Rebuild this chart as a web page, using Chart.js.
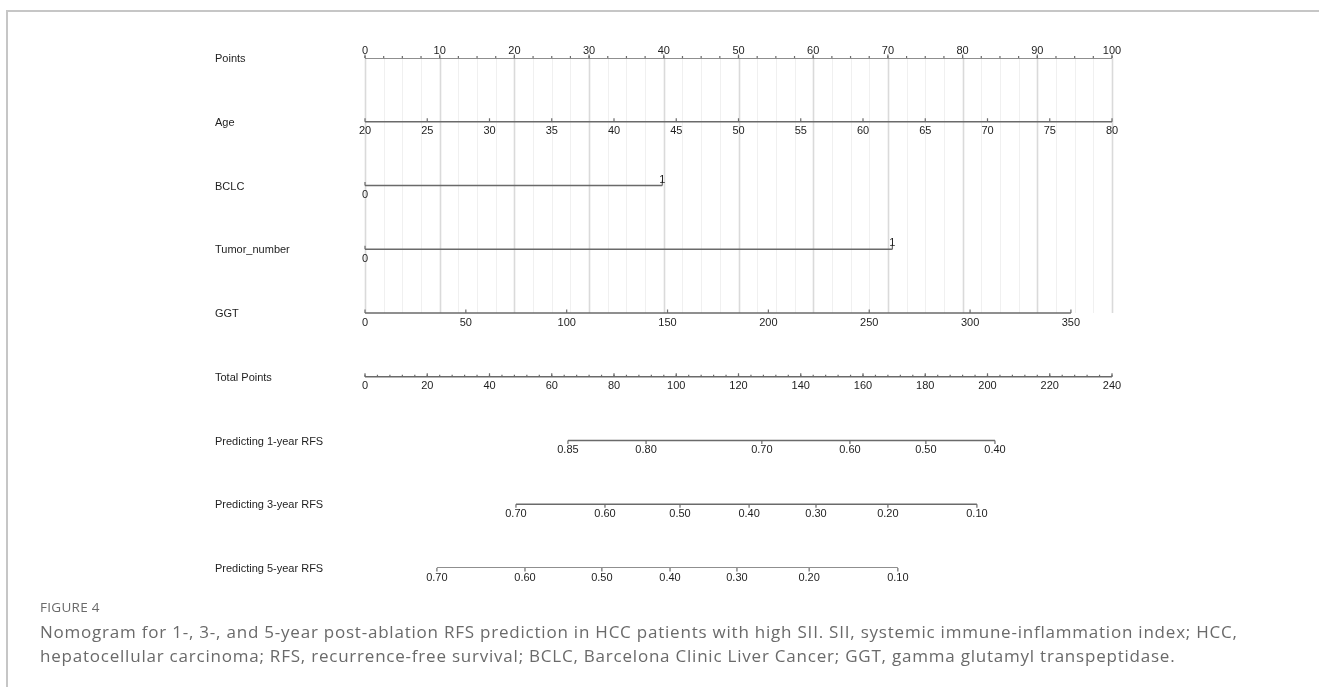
<!DOCTYPE html>
<html>
<head>
<meta charset="utf-8">
<script src="https://cdn.jsdelivr.net/npm/chart.js@4/dist/chart.umd.min.js"></script>
<style>
  html, body { margin: 0; padding: 0; background: #fff; }
  body { width: 1319px; height: 687px; position: relative; overflow: hidden; }
  #frame {
    position: absolute; left: 6px; top: 10px; right: -4px; bottom: -4px;
    border-top: 2px solid #c6c6c6; border-left: 2px solid #c6c6c6;
  }
  #nomo { position: absolute; left: 0; top: 0; }
  #caption {
    position: absolute; left: 40px; top: 598px; width: 1265px;
    font-family: "Open Sans", sans-serif; color: #6a6a6a;
  }
  #caption .fig { font-size: 13.5px; letter-spacing: 0.3px; margin-bottom: 4px; }
  #caption .txt { font-size: 17px; line-height: 24px; letter-spacing: 0.78px; }
</style>
</head>
<body>
<div id="frame"></div>
<canvas id="nomo" width="1319" height="600"></canvas>
<div id="caption">
  <div class="fig">FIGURE 4</div>
  <div class="txt">Nomogram for 1-, 3-, and 5-year post-ablation RFS prediction in HCC patients with high SII. SII, systemic immune-inflammation index; HCC,<br>hepatocellular carcinoma; RFS, recurrence-free survival; BCLC, Barcelona Clinic Liver Cancer; GGT, gamma glutamyl transpeptidase.</div>
</div>

<script>
// =========================
// DATA
// =========================
const rowNames = ["Points", "Age", "BCLC", "Tumor_number", "GGT", "Total Points",
                  "Predicting 1-year RFS", "Predicting 3-year RFS", "Predicting 5-year RFS"];

const pointTicks = [0, 10, 20, 30, 40, 50, 60, 70, 80, 90, 100];
const pointMinorStep = 2.5;

const ageTicks = [20, 25, 30, 35, 40, 45, 50, 55, 60, 65, 70, 75, 80];
const ageRange = [20, 80];
const ageRangePoints = [0, 100];

const bclcLevels = ["0", "1"];
const bclcPoints = [0, 39.8];

const tumorLevels = ["0", "1"];
const tumorPoints = [0, 70.6];

const ggtTicks = [0, 50, 100, 150, 200, 250, 300, 350];
const ggtRange = [0, 350];
const ggtRangePoints = [0, 94.5];

const totalTicks = [0, 20, 40, 60, 80, 100, 120, 140, 160, 180, 200, 220, 240];
const totalMinorStep = 4;

const rfs1Labels = ["0.85", "0.80", "0.70", "0.60", "0.50", "0.40"];
const rfs1Total = [65.2, 90.3, 127.5, 155.8, 180.2, 202.4];

const rfs3Labels = ["0.70", "0.60", "0.50", "0.40", "0.30", "0.20", "0.10"];
const rfs3Total = [48.5, 77.1, 101.2, 123.4, 144.9, 168.0, 196.6];

const rfs5Labels = ["0.70", "0.60", "0.50", "0.40", "0.30", "0.20", "0.10"];
const rfs5Total = [23.1, 51.4, 76.1, 98.0, 119.5, 142.7, 171.2];

// =========================
// BUILD ROW AXES
// =========================
function toPoints(v, range, pts) {
    return pts[0] + (v - range[0]) * (pts[1] - pts[0]) / (range[1] - range[0]);
}

// each row: scale id, tick positions, tick labels, which side the label goes
const rows = [
    { scale: "x", pos: pointTicks, labels: pointTicks.map(String), side: pointTicks.map(() => "above"),
      tickDir: -1, minor: pointMinorStep, max: 100 },
    { scale: "x", pos: ageTicks.map(a => toPoints(a, ageRange, ageRangePoints)), labels: ageTicks.map(String),
      side: ageTicks.map(() => "below"), tickDir: -1 },
    { scale: "x", pos: bclcPoints, labels: bclcLevels, side: ["below", "above"], tickDir: -1 },
    { scale: "x", pos: tumorPoints, labels: tumorLevels, side: ["below", "above"], tickDir: -1 },
    { scale: "x", pos: ggtTicks.map(g => toPoints(g, ggtRange, ggtRangePoints)), labels: ggtTicks.map(String),
      side: ggtTicks.map(() => "below"), tickDir: -1 },
    { scale: "xt", pos: totalTicks, labels: totalTicks.map(String), side: totalTicks.map(() => "below"),
      tickDir: -1, minor: totalMinorStep, max: 240 },
    { scale: "xt", pos: rfs1Total, labels: rfs1Labels, side: rfs1Labels.map(() => "below"), tickDir: 1 },
    { scale: "xt", pos: rfs3Total, labels: rfs3Labels, side: rfs3Labels.map(() => "below"), tickDir: 1 },
    { scale: "xt", pos: rfs5Total, labels: rfs5Labels, side: rfs5Labels.map(() => "below"), tickDir: 1 },
];

const datasets = rows.map((r, i) => ({
    type: "line",
    xAxisID: r.scale,
    data: [{ x: Math.min(...r.pos), y: i }, { x: Math.max(...r.pos), y: i }],
    borderColor: "#6a6a6a",
    borderWidth: 1.6,
    pointRadius: 0,
    tension: 0,
}));

// =========================
// GRID, TICKS, LABELS
// =========================
const FONT = "11px 'Liberation Sans', Arial, sans-serif";

const nomogramPlugin = {
    id: "nomogram",
    beforeDatasetsDraw(chart) {
        const ctx = chart.ctx;
        const xs = chart.scales.x, ys = chart.scales.y;
        const top = ys.getPixelForValue(0), bottom = ys.getPixelForValue(4);
        ctx.save();
        for (let p = 0; p <= 100 + 1e-6; p += pointMinorStep) {
            const major = Math.abs(p % 10) < 1e-6;
            const x = Math.round(xs.getPixelForValue(p)) + 0.5;
            ctx.strokeStyle = major ? "#dadada" : "#f0f0f0";
            ctx.lineWidth = major ? 1.6 : 1;
            ctx.beginPath();
            ctx.moveTo(x, top);
            ctx.lineTo(x, bottom);
            ctx.stroke();
        }
        ctx.restore();
    },
    afterDatasetsDraw(chart) {
        const ctx = chart.ctx;
        const ys = chart.scales.y;
        ctx.save();
        ctx.font = FONT;
        ctx.fillStyle = "#1e1e1e";
        ctx.strokeStyle = "#6a6a6a";
        ctx.lineWidth = 1.2;

        rows.forEach((r, i) => {
            const sc = chart.scales[r.scale];
            const y = ys.getPixelForValue(i);

            // row name
            ctx.textAlign = "left";
            ctx.textBaseline = "middle";
            ctx.fillText(rowNames[i], 215, y + 1);

            // minor ticks
            if (r.minor) {
                for (let v = 0; v <= r.max + 1e-6; v += r.minor) {
                    const x = sc.getPixelForValue(v);
                    ctx.beginPath();
                    ctx.moveTo(x, y);
                    ctx.lineTo(x, y + r.tickDir * 2);
                    ctx.stroke();
                }
            }

            // major ticks + labels
            ctx.textAlign = "center";
            r.pos.forEach((p, k) => {
                const x = sc.getPixelForValue(p);
                const up = r.side[k] === "above" && r.labels.length === 2;
                ctx.beginPath();
                ctx.moveTo(x, y);
                ctx.lineTo(x, y + (up ? -5 : r.tickDir * 3.5));
                ctx.stroke();
                if (r.side[k] === "above") {
                    ctx.textBaseline = "alphabetic";
                    ctx.fillText(r.labels[k], x, y - (up ? 3 : 4));
                } else {
                    ctx.textBaseline = "top";
                    ctx.fillText(r.labels[k], x, y + 4);
                }
            });
        });
        ctx.restore();
    }
};

// =========================
// CHART
// =========================
new Chart(document.getElementById("nomo").getContext("2d"), {
    data: { datasets: datasets },
    options: {
        responsive: false,
        animation: false,
        devicePixelRatio: 1,
        layout: { padding: { left: 365, right: 207, top: 58, bottom: 32 } },
        plugins: { legend: { display: false }, tooltip: { enabled: false } },
        scales: {
            x: { type: "linear", min: 0, max: 100, display: false },
            xt: { type: "linear", axis: "x", min: 0, max: 240, display: false },
            y: { type: "linear", min: 0, max: 8, reverse: true, display: false },
        }
    },
    plugins: [nomogramPlugin]
});
</script>
</body>
</html>
